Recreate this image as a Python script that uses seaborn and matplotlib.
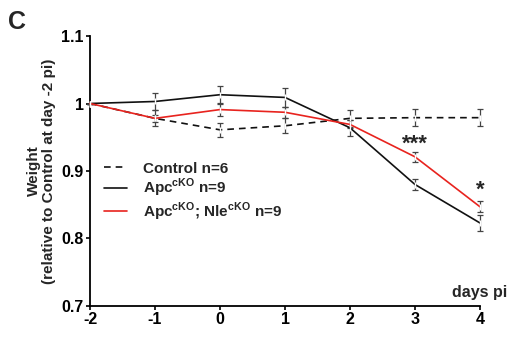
import matplotlib
matplotlib.use("Agg")
import matplotlib.pyplot as plt
import seaborn as sns
import pandas as pd
import numpy as np

days = [-2, -1, 0, 1, 2, 3, 4]
control_mean = [1.0, 0.978, 0.961, 0.967, 0.978, 0.979, 0.979]
control_err = [0.0, 0.012, 0.010, 0.011, 0.013, 0.013, 0.013]
apc_mean = [1.0, 1.003, 1.013, 1.009, 0.964, 0.880, 0.823]
apc_err = [0.0, 0.013, 0.013, 0.014, 0.012, 0.008, 0.012]
nle_mean = [1.0, 0.978, 0.991, 0.987, 0.969, 0.921, 0.847]
nle_err = [0.0, 0.005, 0.010, 0.008, 0.006, 0.007, 0.008]
series_names = ["Control n=6", r"Apc$^{\mathbf{cKO}}$ n=9",
                r"Apc$^{\mathbf{cKO}}$; Nle$^{\mathbf{cKO}}$ n=9"]
yticks = [0.7, 0.8, 0.9, 1.0, 1.1]
ytick_labels = ["0.7", "0.8", "0.9", "1", "1.1"]
xticks = [-2, -1, 0, 1, 2, 3, 4]
star_labels = [(3, 0.940, "***"), (4, 0.872, "*")]

sns.set_theme(style="ticks")
plt.rcParams["font.family"] = ["Liberation Sans", "DejaVu Sans"]
plt.rcParams["font.weight"] = "bold"
plt.rcParams["mathtext.fontset"] = "custom"
plt.rcParams["mathtext.rm"] = "Liberation Sans:bold"
plt.rcParams["mathtext.bf"] = "Liberation Sans:bold"

df = pd.DataFrame({
    "day": days * 3,
    "weight": control_mean + apc_mean + nle_mean,
    "err": control_err + apc_err + nle_err,
    "group": [series_names[0]] * 7 + [series_names[1]] * 7 + [series_names[2]] * 7,
})

fig = plt.figure(figsize=(5.08, 3.38), dpi=100)
ax = fig.add_axes([90 / 508, 1 - 306 / 338, 390 / 508, 270 / 338])

colors = {series_names[0]: "#111111", series_names[1]: "#111111", series_names[2]: "#e8231e"}
dashes = {series_names[0]: (4, 3), series_names[1]: "", series_names[2]: ""}

for name in series_names:
    sub = df[df["group"] == name]
    eb = ax.errorbar(sub["day"], sub["weight"], yerr=sub["err"], fmt="none",
                     ecolor="#444444", elinewidth=0.9, capsize=2.5, capthick=0.9, zorder=2)
    for art in eb.get_children():
        art.set_clip_on(False)

sns.lineplot(data=df, x="day", y="weight", hue="group", style="group",
             palette=colors, dashes=dashes, hue_order=series_names, style_order=series_names,
             linewidth=1.2, ax=ax, legend=False, zorder=3,
             marker="|", markersize=4, markeredgewidth=1.0, clip_on=False)

handles = [
    plt.Line2D([], [], color="#111111", lw=1.2, dashes=(4, 3)),
    plt.Line2D([], [], color="#111111", lw=1.2),
    plt.Line2D([], [], color="#e8231e", lw=1.2),
]
ax.legend(handles, series_names, loc="upper left", bbox_to_anchor=(0.0, 0.585),
          frameon=False, handlelength=1.5, handletextpad=1.1,
          labelspacing=0.08, prop={"weight": "bold", "size": 11})

for x, y, s in star_labels:
    ax.text(x, y, s, ha="center", va="center", fontsize=16, fontweight="bold")

ax.set_xlim(-2, 4)
ax.set_ylim(0.7, 1.1)
ax.set_xticks(xticks)
ax.set_xticklabels([str(v) for v in xticks], fontsize=11.5, fontweight="bold")
ax.set_yticks(yticks)
ax.set_yticklabels(ytick_labels, fontsize=11.5, fontweight="bold")
ax.tick_params(axis="both", length=3, width=1.2, pad=1.5, colors="black")
for side in ["left", "bottom"]:
    ax.spines[side].set_linewidth(1.3)
    ax.spines[side].set_color("black")
sns.despine(ax=ax)
ax.set_xlabel("")
ax.set_ylabel("Weight\n(relative to Control at day -2 pi)", fontsize=11,
              fontweight="bold", labelpad=4, linespacing=1.1)
ax.text(507 / 508, 1 - 292 / 338, "days pi", transform=fig.transFigure, ha="right",
        va="center", fontsize=11.5, fontweight="bold")
fig.text(8 / 508, 1 - 22 / 338, "C", fontsize=18, fontweight="bold", va="center", ha="left")

fig.savefig("out.png", dpi=100)
